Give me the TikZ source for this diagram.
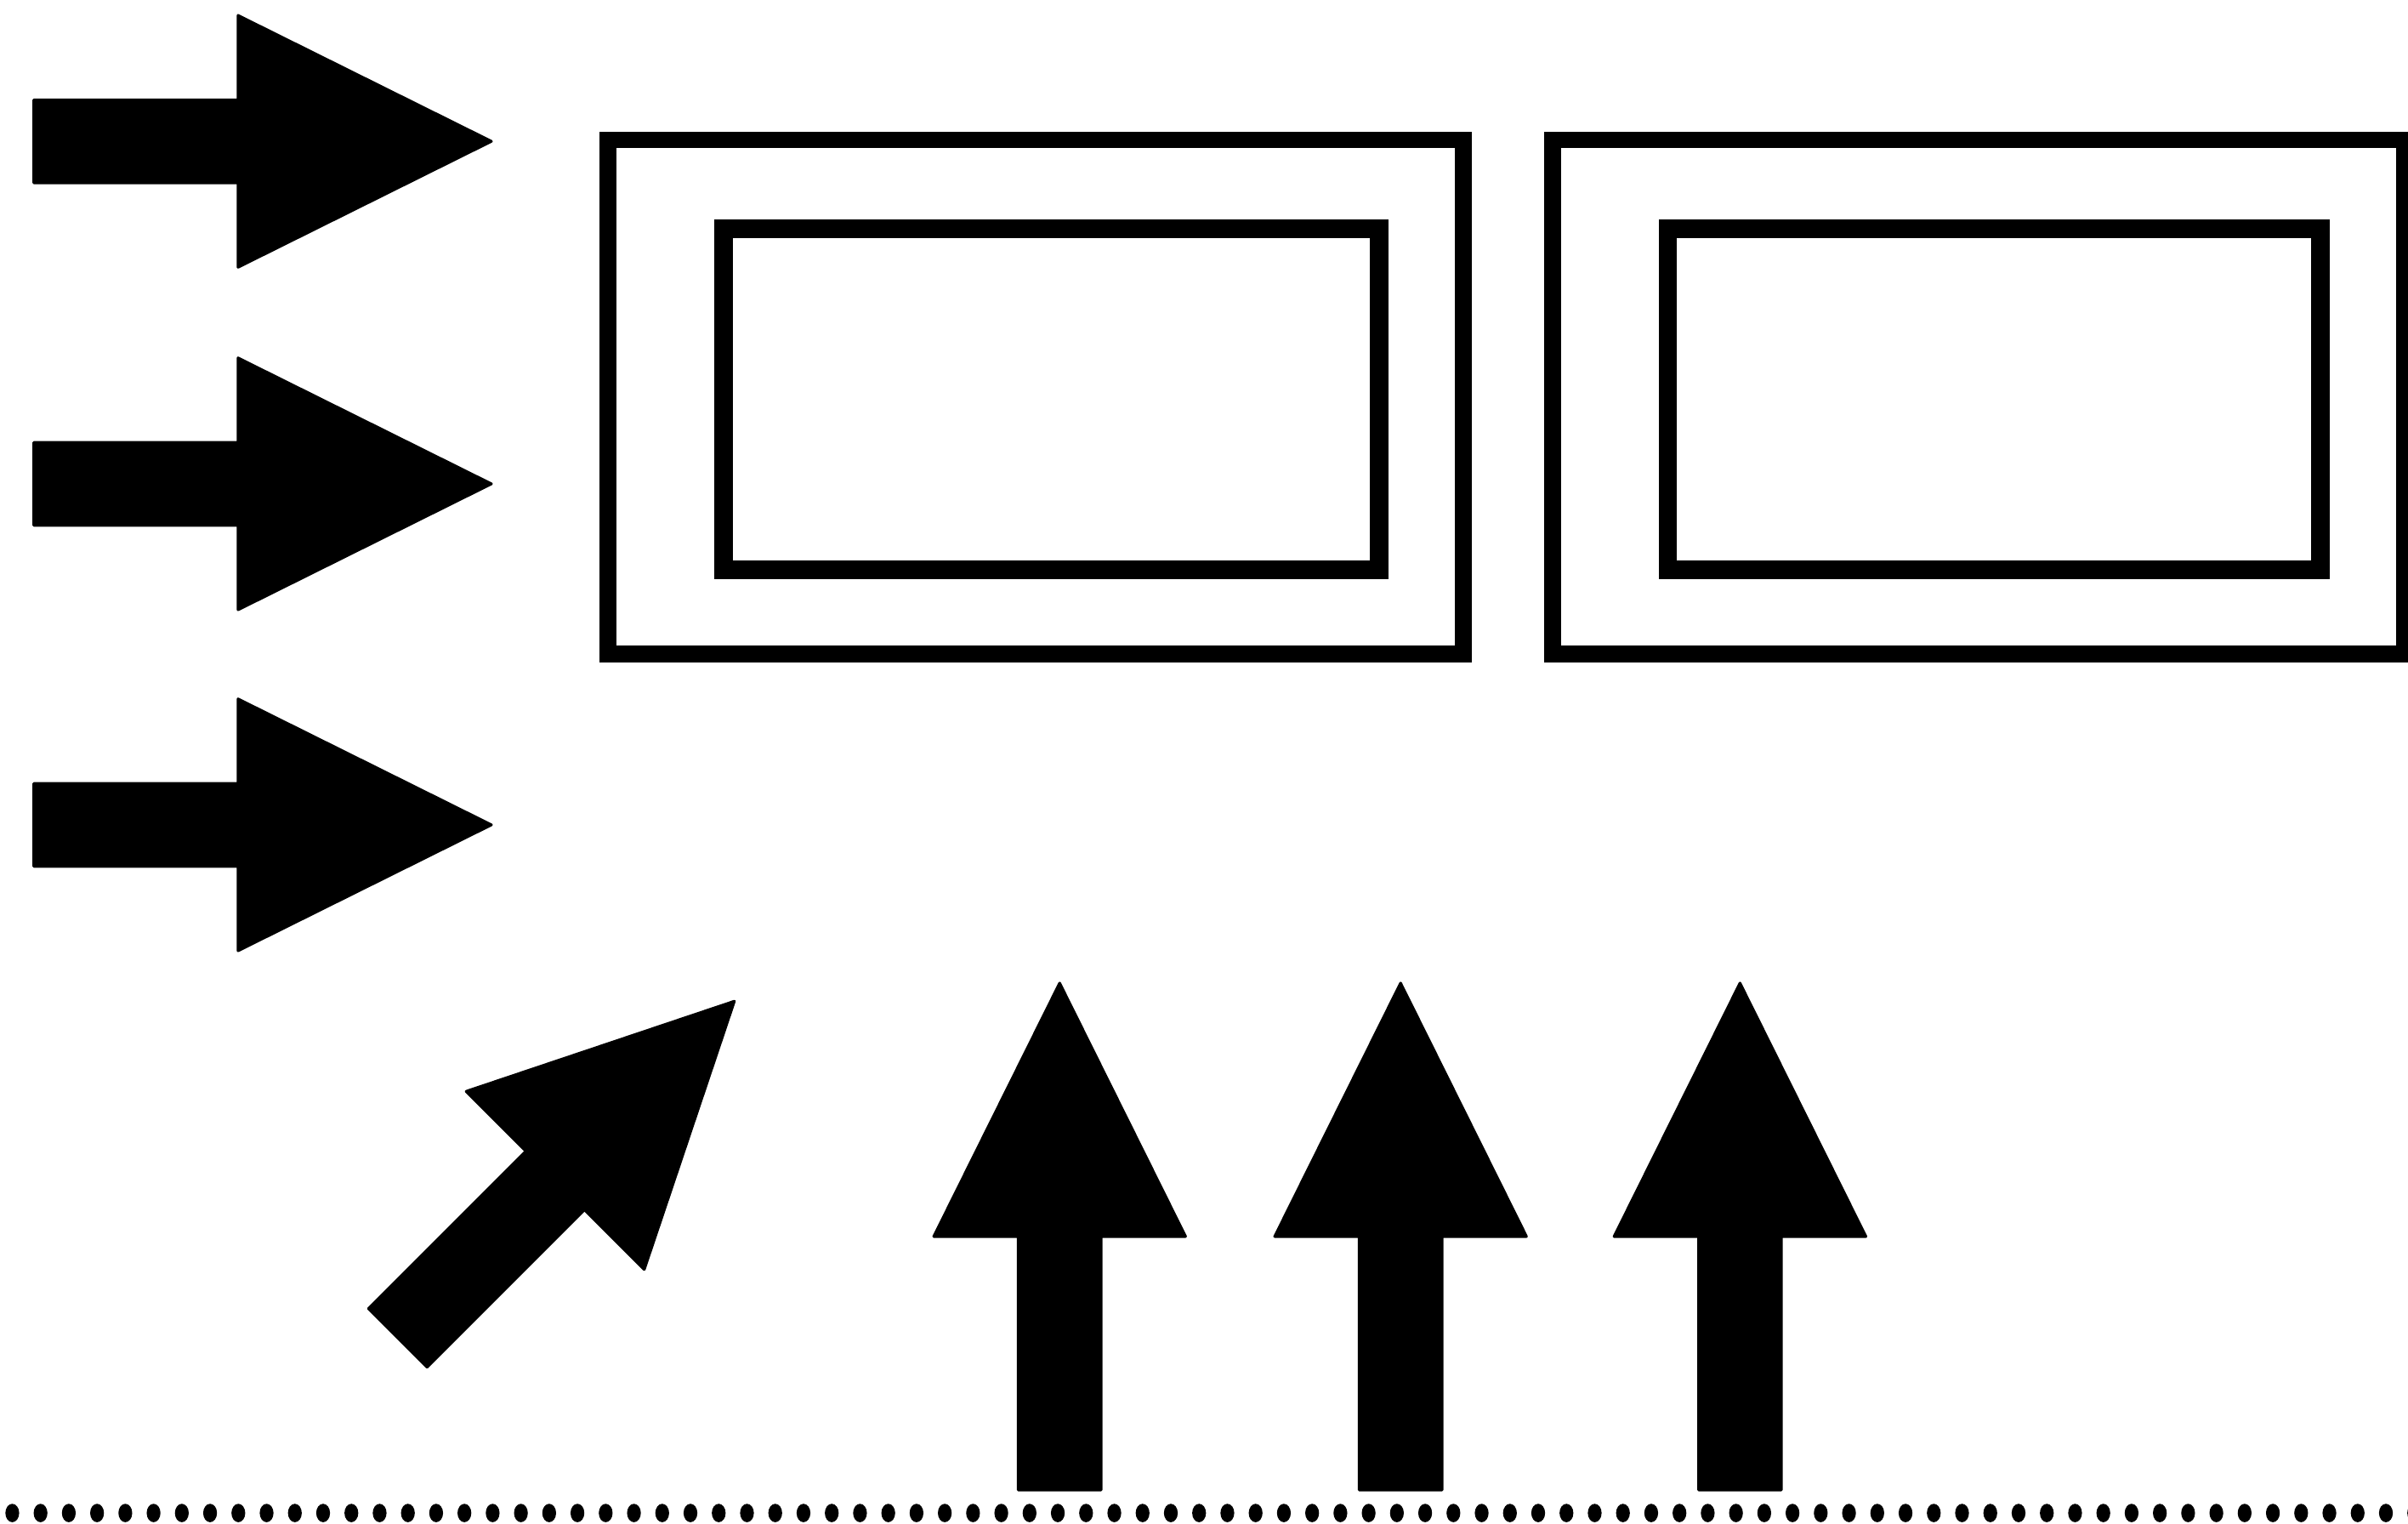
\documentclass[tikz,border=0pt]{standalone}
\usetikzlibrary{positioning, calc}

\begin{document}
\begin{tikzpicture}[
    x=0.02cm, y=-0.02cm,
    outerframe/.style={draw, rectangle, line width=0.22cm, minimum width=11.14cm, minimum height=6.7cm, inner sep=0pt},
    innerframe/.style={draw, rectangle, line width=0.24cm, minimum width=8.54cm, minimum height=4.44cm, inner sep=0pt},
    flowarrow/.style={fill=black, draw=black, line width=1pt, line join=round}
]
\useasboundingbox (0,0) rectangle (1568,992);

% 1. Zwei Rahmen mit je einem inneren Rahmen
\node[outerframe] (frameA) at (674.5,258.5) {};
\node[innerframe] (coreA)  at (684.5,260) {};
\node[outerframe, minimum width=11.1cm] (frameB) at (1288.5,258.5) {};
\node[innerframe, minimum width=8.5cm] (coreB)  at (1298.5,260) {};

% 2. Drei Pfeile von links
\foreach \yc [count=\i] in {92, 315, 537} {
    \coordinate (in\i) at (22,\yc);
    \fill[flowarrow, shift={(in\i)}] (0,-27) -- (133,-27) -- (133,-82) -- (298,0) -- (133,82) -- (133,27) -- (0,27) -- cycle;
}

% 3. Schraeger Pfeil
\coordinate (diag) at (259,871);
\fill[flowarrow, shift={(diag)}, rotate=45] (0,-27) -- (145,-27) -- (145,-82) -- (310,0) -- (145,82) -- (145,27) -- (0,27) -- cycle;

% 4. Drei Pfeile nach oben
\foreach \xc [count=\i] in {690, 912, 1133} {
    \coordinate (up\i) at (\xc,970);
    \fill[flowarrow, shift={(up\i)}, rotate=90] (0,-27) -- (165,-27) -- (165,-82) -- (330,0) -- (165,82) -- (165,27) -- (0,27) -- cycle;
}

% 5. Punktierte Grundlinie
\foreach \i in {0,...,85} {
    \fill (8+18.4*\i,985) ellipse [x radius=0.09cm, y radius=0.12cm];
}

\end{tikzpicture}
\end{document}
